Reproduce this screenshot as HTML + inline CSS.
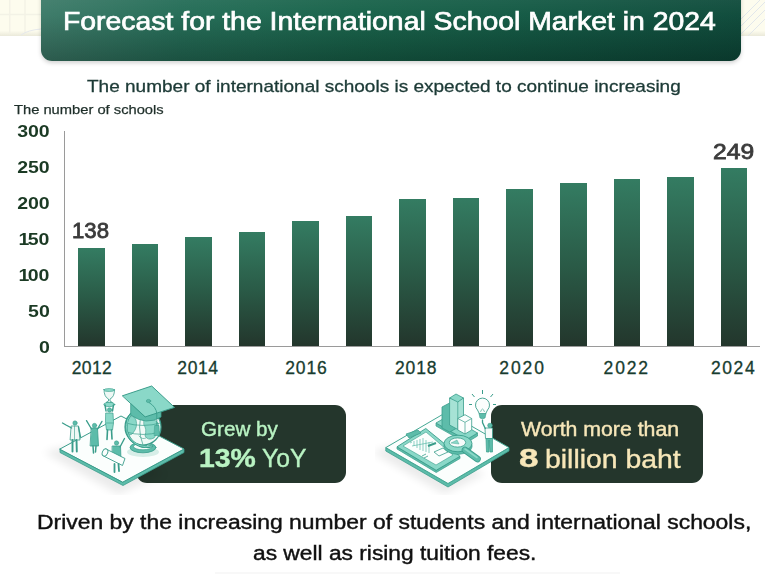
<!DOCTYPE html>
<html><head><meta charset="utf-8">
<style>
*{margin:0;padding:0;box-sizing:border-box}
html,body{width:765px;height:574px;overflow:hidden;background:#fff}
body{position:relative;font-family:"Liberation Sans",sans-serif}
.abs{position:absolute;white-space:nowrap}
.t{position:absolute;white-space:nowrap;transform-origin:0 0}
#topbg{position:absolute;left:0;top:0;width:765px;height:36px;background:linear-gradient(180deg,rgba(0,0,0,0) 85%,rgba(110,105,85,0.13) 100%),#fdfcee}
#title{position:absolute;left:41px;top:-10px;width:700px;height:71px;border-radius:0 0 11px 11px;
 background:linear-gradient(180deg,rgba(255,255,255,0.08) 0%,rgba(255,255,255,0.02) 35%,rgba(0,0,0,0.25) 100%),linear-gradient(90deg,#3c7a68 0%,#236c56 20%,#176249 45%,#125843 70%,#0d4a3a 100%);
 box-shadow:0 2px 4px rgba(0,0,0,0.18)}
#title span{position:absolute;left:21.6px;top:17.1px;font-size:26px;color:#fff;line-height:28px;-webkit-text-stroke:0.7px #fff;transform:scaleX(1.0912);transform-origin:0 0;white-space:nowrap}
.ylab{position:absolute;right:715.5px;font-size:16px;font-weight:700;color:#1b3a24;line-height:16px;transform:scaleX(1.22);transform-origin:100% 50%}
.xlab{position:absolute;font-size:17.5px;color:#173c2f;line-height:18px;width:60px;text-align:center;letter-spacing:0.6px;-webkit-text-stroke:0.3px #173c2f}
.bar{position:absolute;width:26.5px;background:linear-gradient(180deg,#347c62 0%,#2a5b47 50%,#23362c 100%)}
.box{position:absolute;background:#24362c;border-radius:11px}
</style></head><body>
<div id="topbg"></div>
<svg style="position:absolute;left:0;top:0" width="765" height="37">
<path d="M9.7 0V33M25 0V33M0 14.6H41" stroke="#f3f2e6" stroke-width="1.5"/>
<path d="M741 26L765 2M741 34L765 10M741 19L760 0M748 36L765 19" stroke="#dfe4ea" stroke-width="0.9"/>
<path d="M21 35Q28 30 41 29" stroke="#e6e9ec" stroke-width="1" fill="none"/>
</svg>
<div id="title"><span>Forecast for the International School Market in 2024</span></div>

<div class="t" style="left:87.3px;top:76.80px;font-size:17px;line-height:19px;color:#1c3a36;transform:scaleX(1.1180);-webkit-text-stroke:0.3px #1c3a36">The number of international schools is expected to continue increasing</div>
<div class="t" style="left:13.90px;top:102.20px;font-size:13px;line-height:15px;color:#1f2f2a;transform:scaleX(1.1318);-webkit-text-stroke:0.25px #1f2f2a">The number of schools</div>

<div class="ylab" style="top:124.2px">300</div>
<div class="ylab" style="top:160.2px">250</div>
<div class="ylab" style="top:196.2px">200</div>
<div class="ylab" style="top:232.2px"><span style="margin-right:-1.3px">1</span>50</div>
<div class="ylab" style="top:268.2px"><span style="margin-right:-1.3px">1</span>00</div>
<div class="ylab" style="top:304.2px">50</div>
<div class="ylab" style="top:340.2px">0</div>

<div style="position:absolute;left:64px;top:131px;width:1px;height:216px;background:#9a9a9a"></div>
<div style="position:absolute;left:64px;top:346px;width:696px;height:1px;background:#9a9a9a"></div>

<div class="bar" style="left:78px;top:248px;height:98px"></div>
<div class="bar" style="left:131.5px;top:244px;height:102px"></div>
<div class="bar" style="left:185px;top:236.5px;height:109.5px"></div>
<div class="bar" style="left:238.6px;top:231.5px;height:114.5px"></div>
<div class="bar" style="left:292.2px;top:220.5px;height:125.5px"></div>
<div class="bar" style="left:345.7px;top:216px;height:130px"></div>
<div class="bar" style="left:399.3px;top:199px;height:147px"></div>
<div class="bar" style="left:452.8px;top:198px;height:148px"></div>
<div class="bar" style="left:506.4px;top:188.5px;height:157.5px"></div>
<div class="bar" style="left:560px;top:182.5px;height:163.5px"></div>
<div class="bar" style="left:613.5px;top:178.5px;height:167.5px"></div>
<div class="bar" style="left:667px;top:177px;height:169px"></div>
<div class="bar" style="left:720.6px;top:168px;height:178px"></div>

<div class="t" style="left:72.19px;top:218.8px;font-size:22px;line-height:24px;color:#3b3b3b;transform:scaleX(1.0086);-webkit-text-stroke:0.8px #3b3b3b">138</div>
<div class="t" style="left:712.68px;top:139.8px;font-size:22px;line-height:24px;color:#3b3b3b;transform:scaleX(1.12);-webkit-text-stroke:0.8px #3b3b3b">249</div>

<div class="xlab" style="left:61.95px;top:359px;letter-spacing:0.4px">2012</div>
<div class="xlab" style="left:168.00px;top:359px;letter-spacing:0.6px">2014</div>
<div class="xlab" style="left:276.45px;top:359px;letter-spacing:0.9px">2016</div>
<div class="xlab" style="left:386.15px;top:359px;letter-spacing:0.9px">2018</div>
<div class="xlab" style="left:492.55px;top:359px;letter-spacing:1.9px">2020</div>
<div class="xlab" style="left:596.70px;top:359px;letter-spacing:1.8px">2022</div>
<div class="xlab" style="left:703.60px;top:359px;letter-spacing:1.6px">2024</div>

<div class="box" style="left:136px;top:405px;width:210px;height:78px"></div>
<div class="t" style="left:200.57px;top:418.3px;font-size:20px;line-height:22px;color:#b9f3c3;transform:scaleX(1.0324);-webkit-text-stroke:0.4px #b9f3c3">Grew by</div>
<div class="t" style="left:198.73px;top:445px;font-size:25px;line-height:27px;font-weight:700;color:#b9f3c3;transform:scaleX(1.1362);-webkit-text-stroke:0.4px #b9f3c3">13%</div>
<div class="t" style="left:262.01px;top:444.7px;font-size:25px;line-height:27px;color:#b9f3c3;transform:scaleX(0.9884);-webkit-text-stroke:0.35px #b9f3c3">YoY</div>

<div class="box" style="left:491px;top:405px;width:212px;height:78px"></div>
<div class="t" style="left:520.8px;top:418.2px;font-size:20px;line-height:22px;color:#f7e7b9;transform:scaleX(1.0642);-webkit-text-stroke:0.4px #f7e7b9">Worth more than</div>
<div class="t" style="left:519.2px;top:444.7px;font-size:25px;line-height:27px;font-weight:700;color:#f7e7b9;transform:scaleX(1.4);-webkit-text-stroke:0.4px #f7e7b9">8</div>
<div class="t" style="left:544.76px;top:446.2px;font-size:25px;line-height:27px;color:#f7e7b9;transform:scaleX(1.1353);-webkit-text-stroke:0.35px #f7e7b9">billion baht</div>


<svg style="position:absolute;left:40px;top:378px" width="160" height="117" viewBox="40 378 160 117">
<defs><filter id="blur1" x="-50%" y="-50%" width="200%" height="200%"><feGaussianBlur stdDeviation="4"/></filter></defs>
<path d="M44 452 L118 494 L165 474 L95 440 Z" fill="#000" opacity="0.08" filter="url(#blur1)"/>
<g stroke="#3a9d8b" stroke-linejoin="round" stroke-linecap="round">
<!-- platform -->
<path d="M60 449 L60 452.5 L123 485.5 L184 452.5 L184 449 L123 482 Z" fill="#5dbcaa" stroke-width="0.8"/>
<path d="M60 449 L121 416 L184 449 L123 482 Z" fill="#fbfefd" stroke-width="1"/>
<!-- small shadows on platform -->
<ellipse cx="143" cy="452" rx="16" ry="5" fill="#d7eee8" stroke="none"/>
<!-- globe stand -->
<ellipse cx="143" cy="447.5" rx="13" ry="5.3" fill="#5dbcaa" stroke-width="0.8"/>
<ellipse cx="143" cy="446.5" rx="9.5" ry="3.3" fill="#f6fbfa" stroke-width="0.7"/>
<path d="M139.5 441 L139.5 446.5 Q143 448.5 146.5 446.5 L146.5 441 Z" fill="#5dbcaa" stroke-width="0.6"/>
<!-- globe -->
<circle cx="143" cy="427" r="18" fill="#f1faf7" stroke-width="1.2"/>
<path d="M127 418 Q134 414 136 420 Q138 427 133 433 Q130 437 127 432 Q125 425 127 418 Z" fill="#8ad8c8" stroke-width="0.6"/>
<path d="M144 419 Q153 417 158 423 Q160 431 154 438 Q148 441 145 436 Q147 429 144 425 Z" fill="#8ad8c8" stroke-width="0.6"/>
<path d="M139 436 Q142 440 146 438" fill="none" stroke-width="0.6"/>
<path d="M125.5 423 Q143 428 160.5 423 M126 432 Q143 437 160 432" fill="none" stroke-width="0.7"/>
<path d="M143 409 Q136 427 143 445" fill="none" stroke-width="0.7"/>
<path d="M131 414 A20 20 0 0 0 152 446" fill="none" stroke-width="2.4"/>
<path d="M131 414 A20 20 0 0 0 152 446" fill="none" stroke="#8ad8c8" stroke-width="0.9"/>
<!-- cap body -->
<path d="M130.7 404 L130.7 415 Q146 426 161 417 L161 406 Z" fill="#5dbcaa" stroke-width="0.8"/>
<!-- cap board -->
<path d="M122.7 395.7 L151.7 386 L174.5 407.4 L145.5 416.8 Z" fill="#8ad8c8" stroke-width="1"/>
<ellipse cx="148.5" cy="401" rx="2.2" ry="1.6" fill="#5dbcaa" stroke-width="0.6"/>
<path d="M149 402.5 Q156.5 407 156.8 414 L156.8 426" fill="none" stroke-width="0.9"/>
<path d="M155 425.5 L159 425.5 L159.5 435.5 L154.5 435.5 Z" fill="#5dbcaa" stroke-width="0.6"/>
<!-- trophy -->
<path d="M104 389.5 L114.5 389.5 Q114.5 397 110 399 L110 401 L112.5 402.5 L106 402.5 L108.5 401 L108.5 399 Q104 397 104 389.5 Z" fill="#eef8f5" stroke-width="0.8"/>
<ellipse cx="109.3" cy="390" rx="5.2" ry="1.5" fill="#8ad8c8" stroke-width="0.6"/>
<ellipse cx="109.3" cy="404.5" rx="5.5" ry="2.2" fill="#8ad8c8" stroke-width="0.7"/>
<!-- person 3 -->
<path d="M105 405 L106 411 M113.5 405 L112.5 411" fill="none" stroke-width="1.5"/>
<circle cx="109.5" cy="410" r="2.2" fill="#5dbcaa" stroke-width="0.5"/>
<path d="M106 413 L113 413 L113.5 423 L112.5 430 L106.5 430 L105.5 423 Z" fill="#8ad8c8" stroke-width="0.7"/>
<path d="M106.5 423 L113 423" stroke-width="0.6"/>
<path d="M107.5 430 L107 439.5 M111.5 430 L112 439" fill="none" stroke-width="1.6"/>
<!-- person 1 -->
<circle cx="75" cy="423" r="2.2" fill="#5dbcaa" stroke-width="0.5"/>
<path d="M71.5 426 L78.5 426 L80 440 L70.5 440 Z" fill="#eef8f5" stroke-width="0.8"/>
<path d="M74.5 426 L74.5 440" stroke-width="0.6"/>
<path d="M71.6 428 L66 425 L62.5 423" fill="none" stroke-width="1.3"/>
<path d="M78.5 427 L80.5 437" fill="none" stroke-width="1.3"/>
<path d="M72.5 440 L72.5 451.5 M76.5 440 L76.8 451.5" fill="none" stroke-width="1.9"/>
<!-- person 2 -->
<circle cx="94.5" cy="425.5" r="2.2" fill="#5dbcaa" stroke-width="0.5"/>
<path d="M91.5 428 L97.5 428 L98.5 446 L90.5 446 Z" fill="#5dbcaa" stroke-width="0.8"/>
<path d="M91.5 429 L86.5 420.6 M97.5 429 L102 421.4" fill="none" stroke-width="1.3"/>
<path d="M93 446 L93.5 453 M96 446 L95.5 452" fill="none" stroke-width="1.5"/>
<!-- person 4 -->
<circle cx="116.5" cy="443" r="2.2" fill="#5dbcaa" stroke-width="0.5"/>
<path d="M112.5 446 L120.5 446 L121 460 L112.5 460 Z" fill="#5dbcaa" stroke-width="0.8"/>
<path d="M120 447 L124.5 438.5" fill="none" stroke-width="1.4"/>
<path d="M106 449 L125 458.5 L122.5 465.5 L103.5 456 Z" fill="#fbfefd" stroke-width="0.9"/>
<ellipse cx="105" cy="452.5" rx="2.6" ry="3.8" transform="rotate(25 105 452.5)" fill="#fbfefd" stroke-width="0.9"/>
<path d="M114.5 464 L114.5 472 M118.5 464 L119 471" fill="none" stroke-width="1.8"/>
</g>
</svg>

<svg style="position:absolute;left:375px;top:378px" width="140" height="117" viewBox="375 378 140 117">
<defs><filter id="blur2" x="-50%" y="-50%" width="200%" height="200%"><feGaussianBlur stdDeviation="4"/></filter></defs>
<path d="M372 452 L444 494 L485 474 L415 440 Z" fill="#000" opacity="0.08" filter="url(#blur2)"/>
<!-- platform -->
<path d="M385.8 447.6 L385.8 451 L448 487 L509 451 L509 447.6 L448 483.5 Z" fill="#5dbcaa" stroke="#3a9d8b" stroke-width="0.8"/>
<path d="M385.8 447.6 L446.8 412 L509 447.6 L448 483.5 Z" fill="#fbfefd" stroke="#44a894" stroke-width="1"/>
<!-- bars base -->
<path d="M436 423 L436 426 L466 443 L477.5 436 L477.5 433 L466 440 Z" fill="#5dbcaa" stroke="#3a9d8b" stroke-width="0.7"/>
<path d="M436 423 L448 416 L477.5 433 L466 440 Z" fill="#8ad8c8" stroke="#3a9d8b" stroke-width="0.8"/>
<!-- bar A -->
<path d="M442 407 L449.6 403 L457 407 L457 428 L449.6 432 L442 428 Z" fill="#5dbcaa" stroke="#3a9d8b" stroke-width="0.8"/>
<!-- bar B -->
<path d="M449.6 398 L449.6 425 L457.8 429.5 L463.5 426 L463.5 398 Z" fill="#a6e2d5" stroke="#3a9d8b" stroke-width="0.8"/>
<path d="M457.8 402 L457.8 429.5" stroke="#3a9d8b" stroke-width="0.7"/>
<path d="M449.6 398 L456 394 L463.5 398 L457.8 402 Z" fill="#8ad8c8" stroke="#3a9d8b" stroke-width="0.8"/>
<!-- cube -->
<path d="M457.8 418.5 L457.8 430 L465 434 L471.7 430 L471.7 418.5 L465 414.7 Z" fill="#fbfefd" stroke="#3a9d8b" stroke-width="0.8"/>
<path d="M457.8 418.5 L465 422.3 L471.7 418.5 M465 422.3 L465 434" fill="none" stroke="#3a9d8b" stroke-width="0.7"/>
<!-- clipboard -->
<path d="M397 446.8 L397 449 L436.2 472.5 L460 458.5 L460 456.3 L436.2 470.3 Z" fill="#5dbcaa" stroke="#3a9d8b" stroke-width="0.7"/>
<path d="M397 446.8 L425.8 428.5 L460 456.3 L436.2 470.3 Z" fill="#8ad8c8" stroke="#3a9d8b" stroke-width="0.9"/>
<path d="M403 446 L426 432 L453 455 L436 465 Z" fill="#fbfefd" stroke="#3a9d8b" stroke-width="0.6"/>
<path d="M406 434 L418 430 L421 433 L409 438 Z" fill="#5dbcaa" stroke="#3a9d8b" stroke-width="0.7"/>
<path d="M414 441 L414 446 M417 440 L417 448 M420 439 L420 450 M423 438 L423 451 M426 440 L426 452 M429 442 L429 453 M412 446 L433 442 M410 443 L412 442" stroke="#5dbcaa" stroke-width="0.7"/><path d="M428 446 L436 443" stroke="#3a9d8b" stroke-width="2"/><path d="M422 456 L426 454 M424 458 L428 456" stroke="#3a9d8b" stroke-width="0.8"/>
<path d="M434 452 L443 448 L448 452 L439 456 Z" fill="none" stroke="#3a9d8b" stroke-width="0.8"/>
<!-- magnifier -->
<path d="M444 444.5 L444 447 Q445 453 458 454.5 Q471 453 472 447 L472 444.5 Z" fill="#5dbcaa" stroke="#3a9d8b" stroke-width="0.7"/>
<ellipse cx="458" cy="443.5" rx="14" ry="8.3" fill="#8ad8c8" stroke="#3a9d8b" stroke-width="0.9"/>
<ellipse cx="457.5" cy="442.5" rx="8.2" ry="4.6" fill="#f6fbfa" stroke="#3a9d8b" stroke-width="0.8"/>
<path d="M451 443 L457 440 L459 444 Z" fill="#8ad8c8" stroke="#3a9d8b" stroke-width="0.4"/>
<path d="M465 450 L477.5 459" stroke="#3a9d8b" stroke-width="6.6" stroke-linecap="round"/>
<path d="M465 450 L477.5 459" stroke="#5dbcaa" stroke-width="5" stroke-linecap="round"/>
<path d="M465 449 L477 457.5" stroke="#8ad8c8" stroke-width="1.6" stroke-linecap="round"/>
<!-- bulb -->
<path d="M477.5 410 A7 7 0 1 1 487.5 410 L485.5 414 L479.5 414 Z" fill="#fbfefd" stroke="#3a9d8b" stroke-width="0.9"/>
<path d="M480.5 412 Q482.5 406 484.5 412" fill="none" stroke="#3a9d8b" stroke-width="0.6"/>
<path d="M479 413.5 L486 413.5 L485 418 Q482.5 419.5 480 418 Z" fill="#5dbcaa" stroke="#3a9d8b" stroke-width="0.6"/>
<path d="M482.5 390 L482.5 394 M472 394 L474.5 397 M493 394 L490.5 397 M469 404.5 L472 404.5 M493 404.5 L496 404.5" stroke="#3a9d8b" stroke-width="1"/>
<!-- person -->
<circle cx="490" cy="425.5" r="2.3" fill="#5dbcaa" stroke="#3a9d8b" stroke-width="0.6"/>
<path d="M485 428 L492.5 428 L492.5 438.5 L485.5 438.5 Z" fill="#f6fbfa" stroke="#3a9d8b" stroke-width="0.8"/>
<path d="M485.5 429 L482.5 422.5 L482.5 419.5" fill="none" stroke="#3a9d8b" stroke-width="1.3"/>
<path d="M486 438.5 L486.5 452 L489 452 L489 440 L490 452 L492.5 452 L492.5 438.5 Z" fill="#5dbcaa" stroke="#3a9d8b" stroke-width="0.7"/>
</svg>
<div class="t" style="left:36.9px;top:511px;font-size:20px;line-height:22px;color:#111;transform:scaleX(1.1452);-webkit-text-stroke:0.4px #111">Driven by the increasing number of students and international schools,</div>
<div class="t" style="left:252.76px;top:541.6px;font-size:20px;line-height:22px;color:#111;transform:scaleX(1.1381);-webkit-text-stroke:0.4px #111">as well as rising tuition fees.</div>

<div style="position:absolute;left:215px;top:572px;width:405px;height:2px;background:#f8f8f8"></div>
</body></html>
